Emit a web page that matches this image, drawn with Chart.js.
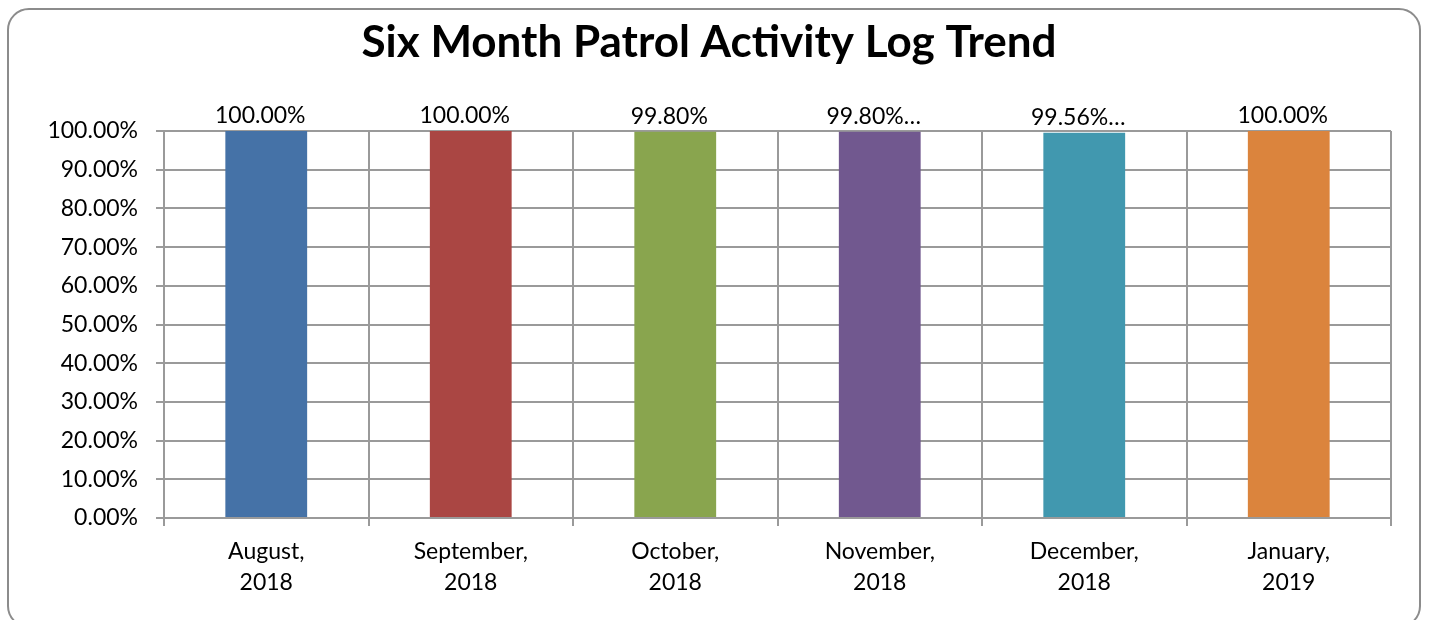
<!DOCTYPE html>
<html>
<head>
<meta charset="utf-8">
<script src="https://cdn.jsdelivr.net/npm/chart.js@4/dist/chart.umd.min.js"></script>
<style>
  body { margin: 0; background: #fff; }
  #wrap { position: relative; width: 1429px; height: 620px; }
  #frame {
    position: absolute; left: 7px; top: 8px; width: 1414px; height: 620px;
    border: 2px solid #8c8c8c; border-radius: 22px; box-sizing: border-box;
    pointer-events: none;
  }
</style>
</head>
<body>
<div id="wrap">
  <canvas id="myChart" width="1429" height="620"></canvas>
  <div id="frame"></div>
</div>
<script>
// data
const chartTitle = "Six Month Patrol Activity Log Trend";
const months = [
  ["August,", "2018"],
  ["September,", "2018"],
  ["October,", "2018"],
  ["November,", "2018"],
  ["December,", "2018"],
  ["January,", "2019"],
];
const patrolPct = [100, 100, 99.8, 99.8, 99.56, 100];
const pctLabels = ["100.00%", "100.00%", "99.80%", "99.80%…", "99.56%…", "100.00%"];
const barColors = ["#4572A7", "#AA4643", "#89A54E", "#71588F", "#4198AF", "#DB843D"];

const gridColor = "#9a9a9a";

// title drawn by hand so it sits centered on the whole frame
const bigTitle = {
  id: "bigTitle",
  afterDraw(chart) {
    const ctx = chart.ctx;
    ctx.save();
    ctx.font = "bold 44px Lato";
    ctx.fillStyle = "#000";
    ctx.textAlign = "center";
    ctx.textBaseline = "alphabetic";
    ctx.fillText(chartTitle, 709, 57);
    ctx.restore();
  },
};

// labels above the bars
const topLabels = {
  id: "topLabels",
  afterDatasetsDraw(chart) {
    const ctx = chart.ctx;
    const meta = chart.getDatasetMeta(0);
    ctx.save();
    ctx.font = "23px Lato";
    ctx.fillStyle = "#000";
    ctx.textAlign = "center";
    ctx.textBaseline = "middle";
    meta.data.forEach((bar, i) => {
      ctx.fillText(pctLabels[i], bar.x - 6, bar.y - 15);
    });
    ctx.restore();
  },
};

const ctx = document.getElementById("myChart").getContext("2d");
const myChart = new Chart(ctx, {
  type: "bar",
  data: {
    labels: months,
    datasets: [
      {
        data: patrolPct,
        backgroundColor: barColors,
        barPercentage: 0.4,
        categoryPercentage: 1,
      },
    ],
  },
  options: {
    responsive: false,
    animation: false,
    layout: { padding: { left: 0, right: 38, top: 131, bottom: 0 } },
    plugins: {
      legend: { display: false },
      tooltip: { enabled: false },
      title: { display: false },
    },
    scales: {
      x: {
        grid: { offset: true, color: gridColor, lineWidth: 2, tickLength: 8 },
        border: { color: gridColor, width: 2 },
        ticks: {
          color: "#000",
          font: { family: "Lato", size: 23, lineHeight: 1.35 },
          padding: 10,
          maxRotation: 0,
        },
        afterFit: (scale) => {
          scale.height = 102;
        },
      },
      y: {
        min: 0,
        max: 100,
        grid: { color: gridColor, lineWidth: 2, tickLength: 8 },
        border: { color: gridColor, width: 2 },
        ticks: {
          stepSize: 10,
          color: "#000",
          font: { family: "Lato", size: 23 },
          padding: 18,
          callback: (v) => v.toFixed(2) + "%",
        },
        afterFit: (scale) => {
          scale.width = 164;
        },
      },
    },
  },
  plugins: [topLabels, bigTitle],
});
</script>
</body>
</html>
